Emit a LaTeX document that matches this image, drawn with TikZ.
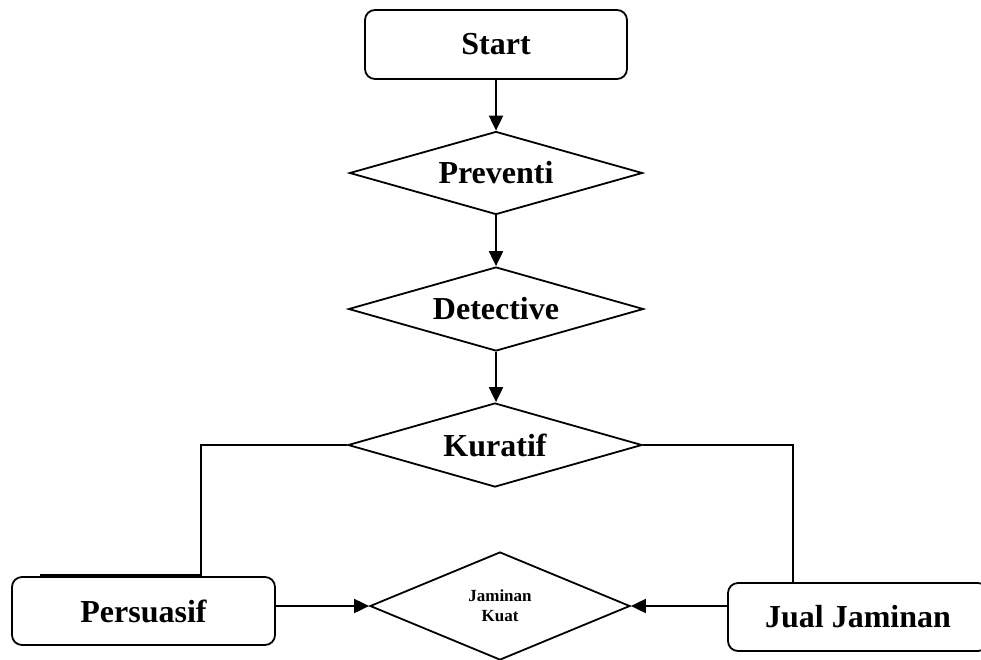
\documentclass[tikz,border=0pt]{standalone}
\usepackage{fontspec}
\setmainfont{Liberation Serif}
\usetikzlibrary{shapes.geometric,arrows.meta}
\begin{document}
\begin{tikzpicture}[x=1pt,y=-1pt,
  base/.style={line width=1.8pt},
  rbox/.style={base,draw,rounded corners=10pt,inner sep=0pt,font=\fontsize{32}{36}\selectfont\bfseries},
  dmd/.style={base,draw,diamond,aspect=4,inner sep=0pt,font=\fontsize{32}{36}\selectfont\bfseries},
  arr/.style={line width=2pt,-{Triangle[length=15pt,width=14pt]}},
  branch/.style={line width=1.5pt}]
\useasboundingbox (0,0) rectangle (981,659);
\clip (0,0) rectangle (981,659);
\node[rbox,minimum width=262pt,minimum height=69pt] (s) at (496,44.5) {Start};
\node[dmd,minimum width=293pt,minimum height=83pt] (p) at (496,173) {Preventi};
\node[dmd,minimum width=295pt,minimum height=84pt] (d) at (496,309) {Detective};
\node[dmd,minimum width=294pt,minimum height=84pt] (k) at (495,445) {Kuratif};
\node[rbox,minimum width=263pt,minimum height=68pt] (ps) at (143.5,611) {Persuasif};
\node[rbox,minimum width=260pt,minimum height=68pt] (jj) at (858,617) {Jual Jaminan};
\node[dmd,minimum width=260pt,minimum height=108pt,align=center,
  font=\fontsize{17}{20}\selectfont\bfseries] (jk) at (500,606) {Jaminan\\Kuat};
\draw[arr] (s.south) -- (p.north);
\draw[arr] (p.south) -- (d.north);
\draw[arr] (d.south) -- (d.south |- k.north);
\draw[branch] (k.west) -| ([xshift=57.5pt]ps.north);
\draw[branch] (k.east) -| ([xshift=-65pt]jj.north);
\draw[line width=2.8pt] (40,575) -- (200,575);
\draw[arr] (ps.east |- jk.west) -- (jk.west);
\draw[arr] (jj.west |- jk.east) -- (jk.east);
\end{tikzpicture}
\end{document}
